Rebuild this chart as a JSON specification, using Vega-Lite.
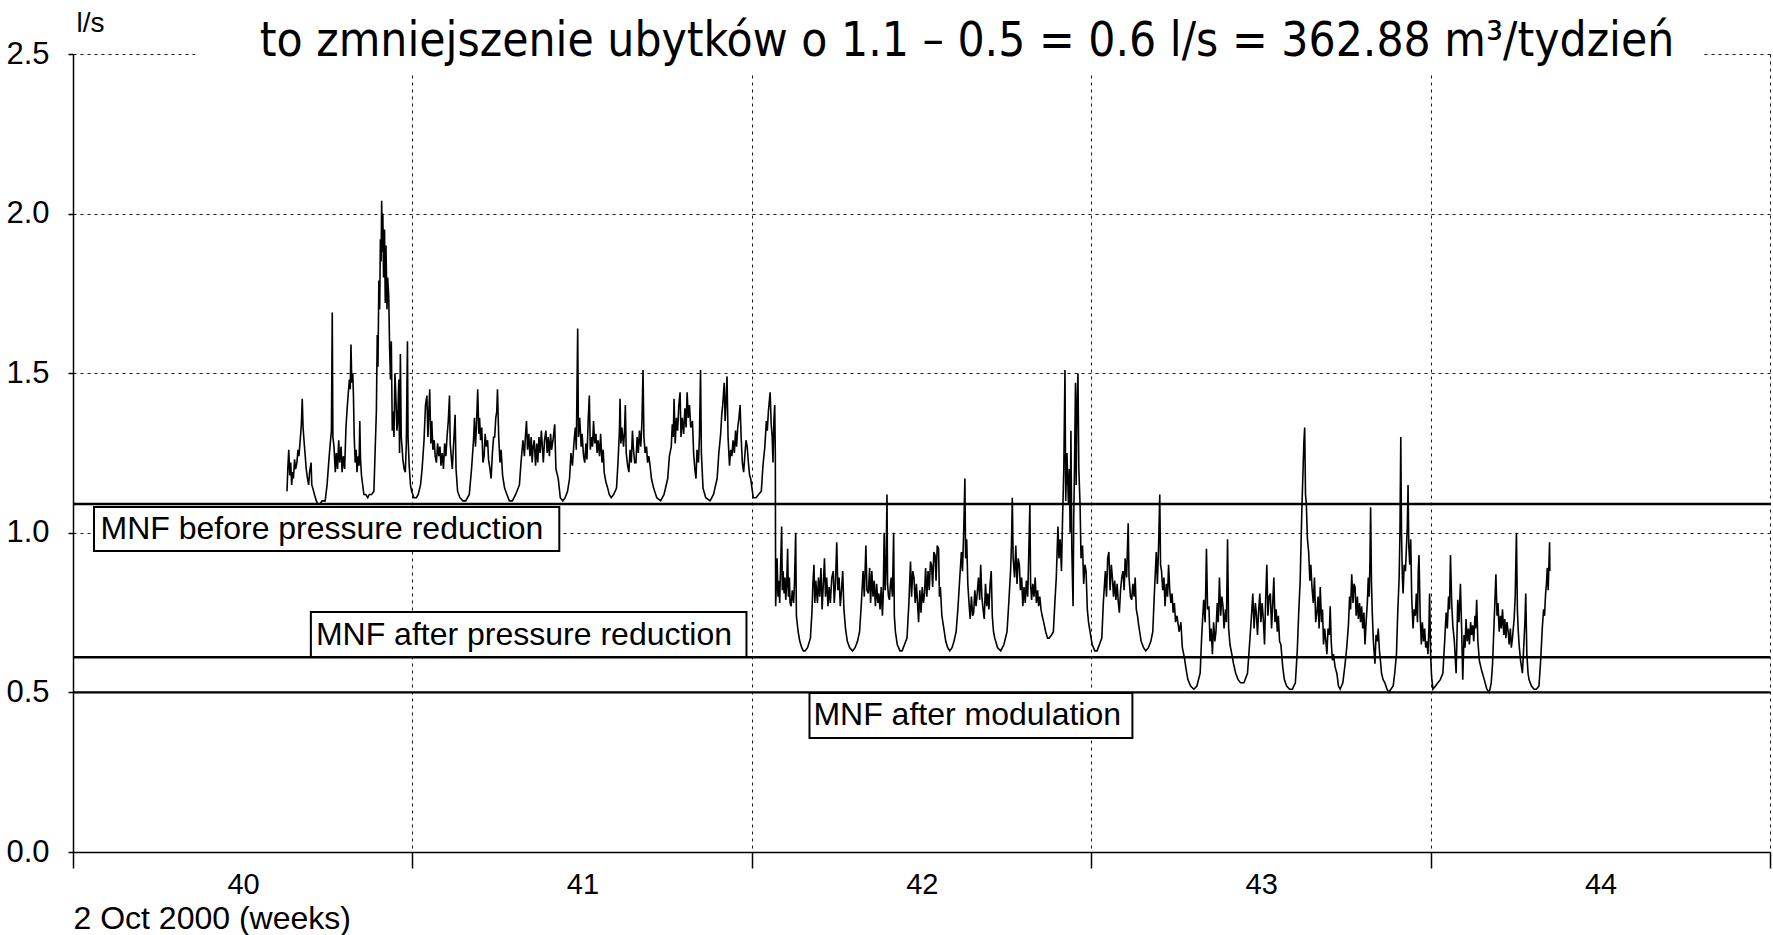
{
"$schema":"https://vega.github.io/schema/vega-lite/v6.json",
"width":1697,"height":798,
"autosize":{"type":"none"},
"padding":{"left":73,"top":54,"right":3,"bottom":83},
"background":"white",
"config":{"view":{"stroke":null},"font":"Liberation Sans"},
"datasets":{
"flow":[
{"t":4.414,"v":1.13},{"t":4.43,"v":1.2},{"t":4.45,"v":1.26},{"t":4.47,"v":1.18},{"t":4.49,"v":1.22},{"t":4.51,"v":1.15},{"t":4.53,"v":1.19},{"t":4.546,"v":1.17},{"t":4.57,"v":1.23},{"t":4.59,"v":1.2},{"t":4.618,"v":1.22},{"t":4.64,"v":1.26},{"t":4.66,"v":1.24},{"t":4.691,"v":1.3},{"t":4.71,"v":1.34},{"t":4.728,"v":1.42},{"t":4.745,"v":1.33},{"t":4.764,"v":1.29},{"t":4.79,"v":1.24},{"t":4.81,"v":1.2},{"t":4.837,"v":1.17},{"t":4.86,"v":1.15},{"t":4.88,"v":1.19},{"t":4.91,"v":1.22},{"t":4.925,"v":1.15},{"t":4.946,"v":1.14},{"t":4.98,"v":1.12},{"t":5.019,"v":1.1},{"t":5.05,"v":1.09},{"t":5.092,"v":1.09},{"t":5.14,"v":1.1},{"t":5.201,"v":1.1},{"t":5.24,"v":1.15},{"t":5.274,"v":1.22},{"t":5.3,"v":1.27},{"t":5.33,"v":1.32},{"t":5.347,"v":1.69},{"t":5.36,"v":1.3},{"t":5.383,"v":1.27},{"t":5.41,"v":1.19},{"t":5.43,"v":1.25},{"t":5.456,"v":1.2},{"t":5.48,"v":1.29},{"t":5.5,"v":1.22},{"t":5.529,"v":1.27},{"t":5.55,"v":1.19},{"t":5.575,"v":1.24},{"t":5.602,"v":1.2},{"t":5.63,"v":1.33},{"t":5.65,"v":1.38},{"t":5.674,"v":1.43},{"t":5.7,"v":1.48},{"t":5.718,"v":1.45},{"t":5.733,"v":1.59},{"t":5.75,"v":1.47},{"t":5.77,"v":1.5},{"t":5.784,"v":1.43},{"t":5.8,"v":1.3},{"t":5.82,"v":1.22},{"t":5.84,"v":1.26},{"t":5.857,"v":1.19},{"t":5.88,"v":1.24},{"t":5.9,"v":1.21},{"t":5.915,"v":1.35},{"t":5.93,"v":1.23},{"t":5.95,"v":1.18},{"t":5.966,"v":1.16},{"t":6.0,"v":1.12},{"t":6.039,"v":1.12},{"t":6.08,"v":1.11},{"t":6.111,"v":1.12},{"t":6.16,"v":1.12},{"t":6.206,"v":1.13},{"t":6.23,"v":1.25},{"t":6.257,"v":1.38},{"t":6.275,"v":1.62},{"t":6.29,"v":1.52},{"t":6.308,"v":1.79},{"t":6.325,"v":1.7},{"t":6.34,"v":1.92},{"t":6.355,"v":1.85},{"t":6.366,"v":2.04},{"t":6.38,"v":1.88},{"t":6.39,"v":2.0},{"t":6.405,"v":1.8},{"t":6.425,"v":1.95},{"t":6.44,"v":1.72},{"t":6.455,"v":1.9},{"t":6.476,"v":1.7},{"t":6.49,"v":1.8},{"t":6.512,"v":1.74},{"t":6.53,"v":1.58},{"t":6.548,"v":1.48},{"t":6.565,"v":1.6},{"t":6.585,"v":1.32},{"t":6.6,"v":1.38},{"t":6.62,"v":1.3},{"t":6.64,"v":1.5},{"t":6.658,"v":1.43},{"t":6.68,"v":1.32},{"t":6.694,"v":1.34},{"t":6.72,"v":1.48},{"t":6.735,"v":1.25},{"t":6.752,"v":1.56},{"t":6.77,"v":1.3},{"t":6.79,"v":1.26},{"t":6.803,"v":1.23},{"t":6.83,"v":1.2},{"t":6.854,"v":1.19},{"t":6.875,"v":1.28},{"t":6.898,"v":1.6},{"t":6.91,"v":1.3},{"t":6.934,"v":1.21},{"t":6.96,"v":1.15},{"t":6.985,"v":1.13},{"t":7.03,"v":1.11},{"t":7.08,"v":1.11},{"t":7.12,"v":1.12},{"t":7.168,"v":1.15},{"t":7.2,"v":1.2},{"t":7.24,"v":1.29},{"t":7.27,"v":1.4},{"t":7.299,"v":1.43},{"t":7.32,"v":1.3},{"t":7.357,"v":1.45},{"t":7.38,"v":1.28},{"t":7.4,"v":1.35},{"t":7.422,"v":1.26},{"t":7.45,"v":1.29},{"t":7.47,"v":1.24},{"t":7.495,"v":1.22},{"t":7.52,"v":1.28},{"t":7.545,"v":1.24},{"t":7.568,"v":1.27},{"t":7.59,"v":1.21},{"t":7.615,"v":1.25},{"t":7.641,"v":1.2},{"t":7.665,"v":1.28},{"t":7.69,"v":1.24},{"t":7.714,"v":1.3},{"t":7.74,"v":1.35},{"t":7.765,"v":1.43},{"t":7.78,"v":1.28},{"t":7.8,"v":1.24},{"t":7.823,"v":1.2},{"t":7.85,"v":1.28},{"t":7.865,"v":1.32},{"t":7.881,"v":1.37},{"t":7.9,"v":1.2},{"t":7.932,"v":1.13},{"t":7.98,"v":1.11},{"t":8.042,"v":1.1},{"t":8.1,"v":1.1},{"t":8.173,"v":1.12},{"t":8.22,"v":1.2},{"t":8.26,"v":1.29},{"t":8.28,"v":1.36},{"t":8.3,"v":1.27},{"t":8.32,"v":1.33},{"t":8.347,"v":1.45},{"t":8.37,"v":1.31},{"t":8.385,"v":1.36},{"t":8.406,"v":1.29},{"t":8.43,"v":1.33},{"t":8.455,"v":1.22},{"t":8.479,"v":1.24},{"t":8.5,"v":1.31},{"t":8.525,"v":1.27},{"t":8.551,"v":1.29},{"t":8.57,"v":1.23},{"t":8.6,"v":1.2},{"t":8.624,"v":1.17},{"t":8.65,"v":1.25},{"t":8.675,"v":1.3},{"t":8.697,"v":1.3},{"t":8.72,"v":1.36},{"t":8.74,"v":1.38},{"t":8.755,"v":1.45},{"t":8.78,"v":1.3},{"t":8.806,"v":1.22},{"t":8.83,"v":1.26},{"t":8.86,"v":1.18},{"t":8.901,"v":1.14},{"t":8.95,"v":1.12},{"t":9.0,"v":1.1},{"t":9.061,"v":1.1},{"t":9.13,"v":1.12},{"t":9.207,"v":1.15},{"t":9.24,"v":1.22},{"t":9.28,"v":1.29},{"t":9.31,"v":1.24},{"t":9.33,"v":1.3},{"t":9.353,"v":1.35},{"t":9.375,"v":1.26},{"t":9.4,"v":1.31},{"t":9.425,"v":1.24},{"t":9.45,"v":1.3},{"t":9.47,"v":1.22},{"t":9.49,"v":1.27},{"t":9.513,"v":1.29},{"t":9.54,"v":1.21},{"t":9.565,"v":1.28},{"t":9.586,"v":1.22},{"t":9.61,"v":1.3},{"t":9.635,"v":1.25},{"t":9.66,"v":1.32},{"t":9.68,"v":1.27},{"t":9.7,"v":1.22},{"t":9.725,"v":1.29},{"t":9.753,"v":1.32},{"t":9.78,"v":1.25},{"t":9.8,"v":1.3},{"t":9.826,"v":1.24},{"t":9.85,"v":1.31},{"t":9.87,"v":1.26},{"t":9.9,"v":1.29},{"t":9.935,"v":1.34},{"t":9.96,"v":1.2},{"t":10.008,"v":1.17},{"t":10.05,"v":1.11},{"t":10.103,"v":1.1},{"t":10.15,"v":1.11},{"t":10.2,"v":1.13},{"t":10.241,"v":1.17},{"t":10.27,"v":1.25},{"t":10.3,"v":1.21},{"t":10.336,"v":1.29},{"t":10.36,"v":1.33},{"t":10.38,"v":1.26},{"t":10.409,"v":1.64},{"t":10.425,"v":1.3},{"t":10.45,"v":1.36},{"t":10.481,"v":1.27},{"t":10.5,"v":1.31},{"t":10.53,"v":1.24},{"t":10.554,"v":1.22},{"t":10.58,"v":1.28},{"t":10.6,"v":1.23},{"t":10.625,"v":1.35},{"t":10.649,"v":1.43},{"t":10.67,"v":1.26},{"t":10.69,"v":1.3},{"t":10.715,"v":1.27},{"t":10.736,"v":1.35},{"t":10.76,"v":1.28},{"t":10.785,"v":1.31},{"t":10.809,"v":1.25},{"t":10.83,"v":1.29},{"t":10.86,"v":1.24},{"t":10.882,"v":1.31},{"t":10.91,"v":1.22},{"t":10.935,"v":1.26},{"t":10.955,"v":1.19},{"t":10.99,"v":1.16},{"t":11.028,"v":1.14},{"t":11.06,"v":1.12},{"t":11.1,"v":1.11},{"t":11.15,"v":1.12},{"t":11.21,"v":1.14},{"t":11.24,"v":1.22},{"t":11.27,"v":1.32},{"t":11.283,"v":1.42},{"t":11.3,"v":1.28},{"t":11.32,"v":1.33},{"t":11.355,"v":1.27},{"t":11.375,"v":1.32},{"t":11.392,"v":1.4},{"t":11.41,"v":1.25},{"t":11.44,"v":1.21},{"t":11.465,"v":1.19},{"t":11.49,"v":1.26},{"t":11.515,"v":1.22},{"t":11.538,"v":1.32},{"t":11.56,"v":1.26},{"t":11.585,"v":1.22},{"t":11.61,"v":1.22},{"t":11.635,"v":1.3},{"t":11.66,"v":1.25},{"t":11.683,"v":1.32},{"t":11.71,"v":1.27},{"t":11.735,"v":1.35},{"t":11.756,"v":1.51},{"t":11.775,"v":1.3},{"t":11.8,"v":1.25},{"t":11.829,"v":1.27},{"t":11.85,"v":1.22},{"t":11.875,"v":1.24},{"t":11.902,"v":1.21},{"t":11.93,"v":1.17},{"t":11.975,"v":1.14},{"t":12.04,"v":1.11},{"t":12.12,"v":1.1},{"t":12.19,"v":1.12},{"t":12.266,"v":1.17},{"t":12.3,"v":1.24},{"t":12.339,"v":1.27},{"t":12.36,"v":1.34},{"t":12.38,"v":1.3},{"t":12.397,"v":1.42},{"t":12.42,"v":1.28},{"t":12.445,"v":1.36},{"t":12.47,"v":1.32},{"t":12.495,"v":1.4},{"t":12.521,"v":1.44},{"t":12.54,"v":1.3},{"t":12.565,"v":1.36},{"t":12.594,"v":1.31},{"t":12.62,"v":1.39},{"t":12.645,"v":1.33},{"t":12.666,"v":1.44},{"t":12.69,"v":1.36},{"t":12.715,"v":1.4},{"t":12.74,"v":1.33},{"t":12.776,"v":1.35},{"t":12.8,"v":1.25},{"t":12.825,"v":1.2},{"t":12.849,"v":1.17},{"t":12.87,"v":1.26},{"t":12.9,"v":1.22},{"t":12.92,"v":1.3},{"t":12.943,"v":1.51},{"t":12.96,"v":1.25},{"t":12.994,"v":1.14},{"t":13.05,"v":1.11},{"t":13.14,"v":1.1},{"t":13.21,"v":1.12},{"t":13.285,"v":1.17},{"t":13.32,"v":1.25},{"t":13.358,"v":1.31},{"t":13.38,"v":1.37},{"t":13.4,"v":1.4},{"t":13.431,"v":1.47},{"t":13.45,"v":1.35},{"t":13.47,"v":1.42},{"t":13.489,"v":1.49},{"t":13.51,"v":1.3},{"t":13.54,"v":1.21},{"t":13.565,"v":1.26},{"t":13.59,"v":1.24},{"t":13.613,"v":1.29},{"t":13.64,"v":1.25},{"t":13.665,"v":1.32},{"t":13.686,"v":1.27},{"t":13.71,"v":1.33},{"t":13.735,"v":1.36},{"t":13.759,"v":1.4},{"t":13.78,"v":1.3},{"t":13.805,"v":1.22},{"t":13.832,"v":1.19},{"t":13.86,"v":1.25},{"t":13.88,"v":1.29},{"t":13.905,"v":1.27},{"t":13.93,"v":1.22},{"t":13.955,"v":1.18},{"t":13.977,"v":1.17},{"t":14.03,"v":1.11},{"t":14.087,"v":1.11},{"t":14.14,"v":1.12},{"t":14.196,"v":1.13},{"t":14.23,"v":1.21},{"t":14.269,"v":1.27},{"t":14.3,"v":1.35},{"t":14.32,"v":1.32},{"t":14.342,"v":1.38},{"t":14.36,"v":1.41},{"t":14.378,"v":1.44},{"t":14.4,"v":1.34},{"t":14.42,"v":1.3},{"t":14.437,"v":1.22},{"t":14.455,"v":1.35},{"t":14.473,"v":1.4},{"t":14.485,"v":1.25},
{"t":14.492,"v":0.77},{"t":14.51,"v":0.86},{"t":14.521,"v":0.92},{"t":14.54,"v":0.8},{"t":14.558,"v":0.85},{"t":14.575,"v":0.78},{"t":14.595,"v":0.9},{"t":14.616,"v":1.02},{"t":14.63,"v":0.82},{"t":14.645,"v":0.88},{"t":14.666,"v":0.81},{"t":14.685,"v":0.86},{"t":14.7,"v":0.79},{"t":14.72,"v":0.84},{"t":14.739,"v":0.95},{"t":14.755,"v":0.8},{"t":14.775,"v":0.86},{"t":14.79,"v":0.78},{"t":14.811,"v":0.77},{"t":14.835,"v":0.82},{"t":14.862,"v":0.78},{"t":14.88,"v":0.84},{"t":14.905,"v":1.0},{"t":14.92,"v":0.74},{"t":14.956,"v":0.69},{"t":14.99,"v":0.66},{"t":15.03,"v":0.64},{"t":15.064,"v":0.63},{"t":15.1,"v":0.63},{"t":15.15,"v":0.64},{"t":15.209,"v":0.67},{"t":15.24,"v":0.75},{"t":15.26,"v":0.84},{"t":15.282,"v":0.9},{"t":15.3,"v":0.78},{"t":15.32,"v":0.85},{"t":15.354,"v":0.78},{"t":15.375,"v":0.86},{"t":15.4,"v":0.8},{"t":15.427,"v":0.89},{"t":15.45,"v":0.76},{"t":15.475,"v":0.84},{"t":15.499,"v":0.92},{"t":15.52,"v":0.8},{"t":15.545,"v":0.86},{"t":15.571,"v":0.77},{"t":15.595,"v":0.83},{"t":15.62,"v":0.78},{"t":15.65,"v":0.86},{"t":15.68,"v":0.88},{"t":15.7,"v":0.78},{"t":15.725,"v":0.84},{"t":15.752,"v":0.97},{"t":15.775,"v":0.82},{"t":15.8,"v":0.86},{"t":15.825,"v":0.77},{"t":15.85,"v":0.82},{"t":15.875,"v":0.88},{"t":15.9,"v":0.76},{"t":15.933,"v":0.7},{"t":15.97,"v":0.66},{"t":16.02,"v":0.64},{"t":16.078,"v":0.63},{"t":16.13,"v":0.64},{"t":16.18,"v":0.66},{"t":16.223,"v":0.69},{"t":16.26,"v":0.78},{"t":16.295,"v":0.88},{"t":16.32,"v":0.8},{"t":16.353,"v":0.96},{"t":16.375,"v":0.82},{"t":16.404,"v":0.81},{"t":16.43,"v":0.89},{"t":16.45,"v":0.78},{"t":16.476,"v":0.88},{"t":16.5,"v":0.8},{"t":16.525,"v":0.85},{"t":16.549,"v":0.77},{"t":16.575,"v":0.84},{"t":16.6,"v":0.78},{"t":16.621,"v":0.81},{"t":16.645,"v":0.76},{"t":16.67,"v":0.83},{"t":16.694,"v":0.74},{"t":16.71,"v":0.8},{"t":16.73,"v":1.0},{"t":16.75,"v":0.82},{"t":16.77,"v":0.9},{"t":16.788,"v":1.12},{"t":16.8,"v":0.84},{"t":16.82,"v":0.8},{"t":16.839,"v":0.79},{"t":16.86,"v":0.84},{"t":16.875,"v":0.86},{"t":16.9,"v":0.8},{"t":16.925,"v":1.0},{"t":16.94,"v":0.74},{"t":16.962,"v":0.69},{"t":17.0,"v":0.65},{"t":17.056,"v":0.63},{"t":17.1,"v":0.63},{"t":17.15,"v":0.65},{"t":17.201,"v":0.67},{"t":17.24,"v":0.78},{"t":17.273,"v":0.91},{"t":17.295,"v":0.8},{"t":17.32,"v":0.88},{"t":17.345,"v":0.86},{"t":17.37,"v":0.78},{"t":17.395,"v":0.84},{"t":17.418,"v":0.78},{"t":17.44,"v":0.72},{"t":17.465,"v":0.82},{"t":17.49,"v":0.75},{"t":17.515,"v":0.83},{"t":17.54,"v":0.78},{"t":17.563,"v":0.81},{"t":17.585,"v":0.89},{"t":17.61,"v":0.8},{"t":17.635,"v":0.88},{"t":17.66,"v":0.82},{"t":17.685,"v":0.91},{"t":17.707,"v":0.9},{"t":17.73,"v":0.83},{"t":17.755,"v":0.94},{"t":17.78,"v":0.93},{"t":17.8,"v":0.85},{"t":17.825,"v":0.96},{"t":17.852,"v":0.95},{"t":17.87,"v":0.8},{"t":17.889,"v":0.83},{"t":17.92,"v":0.74},{"t":17.961,"v":0.7},{"t":18.0,"v":0.66},{"t":18.04,"v":0.64},{"t":18.084,"v":0.63},{"t":18.13,"v":0.64},{"t":18.17,"v":0.66},{"t":18.214,"v":0.69},{"t":18.25,"v":0.76},{"t":18.29,"v":0.86},{"t":18.323,"v":0.94},{"t":18.345,"v":0.88},{"t":18.37,"v":1.0},{"t":18.395,"v":1.17},{"t":18.41,"v":0.92},{"t":18.432,"v":0.98},{"t":18.455,"v":0.84},{"t":18.48,"v":0.78},{"t":18.504,"v":0.73},{"t":18.53,"v":0.8},{"t":18.555,"v":0.74},{"t":18.576,"v":0.75},{"t":18.6,"v":0.82},{"t":18.625,"v":0.77},{"t":18.649,"v":0.81},{"t":18.675,"v":0.86},{"t":18.7,"v":0.79},{"t":18.721,"v":0.9},{"t":18.745,"v":0.8},{"t":18.77,"v":0.76},{"t":18.794,"v":0.73},{"t":18.82,"v":0.84},{"t":18.845,"v":0.77},{"t":18.866,"v":0.81},{"t":18.89,"v":0.76},{"t":18.915,"v":0.84},{"t":18.938,"v":0.88},{"t":18.96,"v":0.74},{"t":18.985,"v":0.69},{"t":19.011,"v":0.67},{"t":19.07,"v":0.64},{"t":19.134,"v":0.63},{"t":19.2,"v":0.65},{"t":19.264,"v":0.69},{"t":19.3,"v":0.78},{"t":19.337,"v":0.88},{"t":19.355,"v":0.96},{"t":19.373,"v":1.11},{"t":19.39,"v":0.92},{"t":19.42,"v":0.86},{"t":19.445,"v":0.96},{"t":19.47,"v":0.84},{"t":19.495,"v":0.92},{"t":19.518,"v":0.9},{"t":19.54,"v":0.82},{"t":19.565,"v":0.86},{"t":19.59,"v":0.77},{"t":19.615,"v":0.83},{"t":19.64,"v":0.78},{"t":19.663,"v":0.85},{"t":19.69,"v":0.8},{"t":19.71,"v":0.92},{"t":19.735,"v":1.09},{"t":19.75,"v":0.84},{"t":19.771,"v":0.79},{"t":19.795,"v":0.84},{"t":19.82,"v":0.8},{"t":19.844,"v":0.86},{"t":19.87,"v":0.78},{"t":19.895,"v":0.82},{"t":19.916,"v":0.77},{"t":19.94,"v":0.8},{"t":19.965,"v":0.76},{"t":19.988,"v":0.74},{"t":20.02,"v":0.72},{"t":20.061,"v":0.69},{"t":20.1,"v":0.67},{"t":20.133,"v":0.67},{"t":20.18,"v":0.68},{"t":20.22,"v":0.69},{"t":20.25,"v":0.78},{"t":20.28,"v":0.86},{"t":20.314,"v":1.02},{"t":20.335,"v":0.92},{"t":20.36,"v":0.98},{"t":20.387,"v":0.88},{"t":20.41,"v":1.05},{"t":20.435,"v":1.2},{"t":20.459,"v":1.51},{"t":20.475,"v":1.1},{"t":20.5,"v":1.25},{"t":20.531,"v":1.09},{"t":20.55,"v":1.2},{"t":20.565,"v":1.0},{"t":20.582,"v":1.32},{"t":20.6,"v":0.95},{"t":20.626,"v":0.77},{"t":20.64,"v":1.05},{"t":20.655,"v":1.2},{"t":20.676,"v":1.47},{"t":20.69,"v":1.15},{"t":20.705,"v":1.38},{"t":20.727,"v":1.5},{"t":20.745,"v":1.2},{"t":20.77,"v":1.09},{"t":20.79,"v":0.92},{"t":20.821,"v":0.96},{"t":20.845,"v":0.84},{"t":20.87,"v":0.9},{"t":20.894,"v":0.88},{"t":20.92,"v":0.76},{"t":20.945,"v":0.72},{"t":20.966,"v":0.7},{"t":21.02,"v":0.65},{"t":21.075,"v":0.63},{"t":21.12,"v":0.63},{"t":21.17,"v":0.65},{"t":21.219,"v":0.67},{"t":21.25,"v":0.78},{"t":21.292,"v":0.88},{"t":21.315,"v":0.8},{"t":21.34,"v":0.92},{"t":21.364,"v":0.94},{"t":21.39,"v":0.82},{"t":21.415,"v":0.9},{"t":21.437,"v":0.86},{"t":21.46,"v":0.8},{"t":21.485,"v":0.85},{"t":21.509,"v":0.79},{"t":21.535,"v":0.84},{"t":21.56,"v":0.78},{"t":21.581,"v":0.75},{"t":21.605,"v":0.82},{"t":21.63,"v":0.86},{"t":21.654,"v":0.88},{"t":21.68,"v":0.82},{"t":21.7,"v":0.92},{"t":21.73,"v":0.86},{"t":21.763,"v":1.03},{"t":21.78,"v":0.86},{"t":21.81,"v":0.8},{"t":21.835,"v":0.79},{"t":21.86,"v":0.84},{"t":21.885,"v":0.8},{"t":21.907,"v":0.86},{"t":21.93,"v":0.76},{"t":21.955,"v":0.74},{"t":21.98,"v":0.71},{"t":22.03,"v":0.66},{"t":22.08,"v":0.64},{"t":22.125,"v":0.63},{"t":22.18,"v":0.64},{"t":22.23,"v":0.66},{"t":22.27,"v":0.69},{"t":22.3,"v":0.8},{"t":22.342,"v":0.94},{"t":22.365,"v":0.84},{"t":22.39,"v":0.96},{"t":22.414,"v":1.12},{"t":22.43,"v":0.9},{"t":22.451,"v":0.88},{"t":22.475,"v":0.82},{"t":22.5,"v":0.86},{"t":22.523,"v":0.77},{"t":22.55,"v":0.84},{"t":22.575,"v":0.8},{"t":22.596,"v":0.9},{"t":22.62,"v":0.82},{"t":22.645,"v":0.78},{"t":22.668,"v":0.81},{"t":22.69,"v":0.75},{"t":22.715,"v":0.78},{"t":22.74,"v":0.72},{"t":22.77,"v":0.74},{"t":22.813,"v":0.69},{"t":22.85,"v":0.72},{"t":22.88,"v":0.64},{"t":22.921,"v":0.61},{"t":22.96,"v":0.57},{"t":22.994,"v":0.54},{"t":23.05,"v":0.52},{"t":23.117,"v":0.51},{"t":23.18,"v":0.52},{"t":23.247,"v":0.56},{"t":23.28,"v":0.68},{"t":23.32,"v":0.79},{"t":23.35,"v":0.72},{"t":23.377,"v":0.95},{"t":23.4,"v":0.76},{"t":23.428,"v":0.77},{"t":23.45,"v":0.66},{"t":23.475,"v":0.7},{"t":23.5,"v":0.62},{"t":23.525,"v":0.72},{"t":23.55,"v":0.66},{"t":23.573,"v":0.69},{"t":23.6,"v":0.78},{"t":23.62,"v":0.72},{"t":23.645,"v":0.86},{"t":23.67,"v":0.74},{"t":23.695,"v":0.8},{"t":23.718,"v":0.77},{"t":23.74,"v":0.7},{"t":23.77,"v":0.76},{"t":23.79,"v":0.72},{"t":23.812,"v":0.98},{"t":23.835,"v":0.7},{"t":23.862,"v":0.65},{"t":23.9,"v":0.62},{"t":23.935,"v":0.59},{"t":23.98,"v":0.56},{"t":24.03,"v":0.54},{"t":24.079,"v":0.53},{"t":24.15,"v":0.53},{"t":24.224,"v":0.56},{"t":24.27,"v":0.66},{"t":24.31,"v":0.75},{"t":24.333,"v":0.81},{"t":24.36,"v":0.7},{"t":24.385,"v":0.78},{"t":24.405,"v":0.75},{"t":24.43,"v":0.68},{"t":24.455,"v":0.76},{"t":24.478,"v":0.81},{"t":24.5,"v":0.72},{"t":24.525,"v":0.78},{"t":24.55,"v":0.73},{"t":24.575,"v":0.65},{"t":24.6,"v":0.8},{"t":24.622,"v":0.9},{"t":24.645,"v":0.74},{"t":24.67,"v":0.8},{"t":24.695,"v":0.81},{"t":24.72,"v":0.7},{"t":24.745,"v":0.78},{"t":24.767,"v":0.86},{"t":24.79,"v":0.72},{"t":24.815,"v":0.76},{"t":24.839,"v":0.69},{"t":24.86,"v":0.74},{"t":24.885,"v":0.66},{"t":24.912,"v":0.65},{"t":24.95,"v":0.58},{"t":24.984,"v":0.54},{"t":25.03,"v":0.52},{"t":25.093,"v":0.51},
{"t":25.15,"v":0.51},{"t":25.211,"v":0.53},{"t":25.25,"v":0.63},{"t":25.28,"v":0.75},{"t":25.31,"v":0.85},{"t":25.33,"v":0.98},{"t":25.348,"v":1.09},{"t":25.37,"v":1.2},{"t":25.385,"v":1.28},{"t":25.403,"v":1.33},{"t":25.42,"v":1.12},{"t":25.437,"v":1.09},{"t":25.46,"v":0.98},{"t":25.485,"v":0.94},{"t":25.51,"v":0.85},{"t":25.53,"v":0.9},{"t":25.553,"v":0.83},{"t":25.58,"v":0.78},{"t":25.605,"v":0.86},{"t":25.63,"v":0.72},{"t":25.655,"v":0.75},{"t":25.68,"v":0.8},{"t":25.7,"v":0.7},{"t":25.724,"v":0.83},{"t":25.75,"v":0.72},{"t":25.77,"v":0.76},{"t":25.792,"v":0.65},{"t":25.815,"v":0.7},{"t":25.84,"v":0.66},{"t":25.861,"v":0.62},{"t":25.885,"v":0.7},{"t":25.91,"v":0.68},{"t":25.929,"v":0.77},{"t":25.95,"v":0.66},{"t":25.975,"v":0.6},{"t":25.997,"v":0.62},{"t":26.03,"v":0.58},{"t":26.066,"v":0.56},{"t":26.1,"v":0.52},{"t":26.134,"v":0.51},{"t":26.19,"v":0.53},{"t":26.237,"v":0.59},{"t":26.27,"v":0.64},{"t":26.305,"v":0.71},{"t":26.33,"v":0.8},{"t":26.35,"v":0.76},{"t":26.373,"v":0.87},{"t":26.4,"v":0.78},{"t":26.42,"v":0.84},{"t":26.442,"v":0.83},{"t":26.465,"v":0.74},{"t":26.49,"v":0.8},{"t":26.51,"v":0.73},{"t":26.535,"v":0.78},{"t":26.555,"v":0.72},{"t":26.578,"v":0.77},{"t":26.6,"v":0.7},{"t":26.625,"v":0.75},{"t":26.647,"v":0.65},{"t":26.67,"v":0.72},{"t":26.695,"v":0.78},{"t":26.715,"v":0.86},{"t":26.735,"v":0.8},{"t":26.75,"v":0.92},{"t":26.763,"v":1.08},{"t":26.78,"v":0.85},{"t":26.797,"v":0.75},{"t":26.82,"v":0.66},{"t":26.852,"v":0.59},{"t":26.875,"v":0.68},{"t":26.9,"v":0.66},{"t":26.92,"v":0.7},{"t":26.945,"v":0.63},{"t":26.965,"v":0.6},{"t":26.988,"v":0.56},{"t":27.02,"v":0.54},{"t":27.057,"v":0.53},{"t":27.1,"v":0.51},{"t":27.139,"v":0.5},{"t":27.18,"v":0.51},{"t":27.228,"v":0.52},{"t":27.26,"v":0.56},{"t":27.296,"v":0.62},{"t":27.32,"v":0.74},{"t":27.351,"v":0.86},{"t":27.368,"v":1.0},{"t":27.385,"v":1.3},{"t":27.4,"v":1.0},{"t":27.418,"v":0.86},{"t":27.433,"v":0.81},{"t":27.455,"v":0.9},{"t":27.481,"v":0.88},{"t":27.5,"v":0.95},{"t":27.52,"v":1.02},{"t":27.535,"v":1.15},{"t":27.55,"v":0.96},{"t":27.57,"v":0.9},{"t":27.59,"v":0.98},{"t":27.61,"v":0.8},{"t":27.638,"v":0.7},{"t":27.66,"v":0.76},{"t":27.685,"v":0.74},{"t":27.706,"v":0.81},{"t":27.73,"v":0.72},{"t":27.745,"v":0.88},{"t":27.761,"v":0.93},{"t":27.785,"v":0.74},{"t":27.809,"v":0.65},{"t":27.83,"v":0.72},{"t":27.855,"v":0.66},{"t":27.877,"v":0.7},{"t":27.9,"v":0.64},{"t":27.925,"v":0.66},{"t":27.945,"v":0.62},{"t":27.965,"v":0.7},{"t":27.979,"v":0.81},{"t":28.0,"v":0.62},{"t":28.02,"v":0.55},{"t":28.048,"v":0.51},{"t":28.1,"v":0.52},{"t":28.15,"v":0.53},{"t":28.2,"v":0.54},{"t":28.253,"v":0.56},{"t":28.29,"v":0.66},{"t":28.321,"v":0.75},{"t":28.345,"v":0.7},{"t":28.37,"v":0.8},{"t":28.39,"v":0.76},{"t":28.41,"v":0.93},{"t":28.435,"v":0.78},{"t":28.458,"v":0.71},{"t":28.49,"v":0.66},{"t":28.526,"v":0.56},{"t":28.545,"v":0.68},{"t":28.56,"v":0.79},{"t":28.585,"v":0.72},{"t":28.615,"v":0.84},{"t":28.64,"v":0.7},{"t":28.663,"v":0.54},{"t":28.69,"v":0.68},{"t":28.71,"v":0.64},{"t":28.731,"v":0.73},{"t":28.755,"v":0.66},{"t":28.78,"v":0.7},{"t":28.8,"v":0.65},{"t":28.825,"v":0.72},{"t":28.845,"v":0.68},{"t":28.868,"v":0.71},{"t":28.89,"v":0.66},{"t":28.915,"v":0.74},{"t":28.93,"v":0.7},{"t":28.95,"v":0.79},{"t":28.975,"v":0.66},{"t":29.005,"v":0.6},{"t":29.05,"v":0.57},{"t":29.107,"v":0.54},{"t":29.16,"v":0.51},{"t":29.21,"v":0.5},{"t":29.25,"v":0.53},{"t":29.278,"v":0.59},{"t":29.31,"v":0.72},{"t":29.347,"v":0.87},{"t":29.37,"v":0.74},{"t":29.39,"v":0.78},{"t":29.415,"v":0.69},{"t":29.44,"v":0.74},{"t":29.46,"v":0.7},{"t":29.483,"v":0.76},{"t":29.51,"v":0.68},{"t":29.53,"v":0.73},{"t":29.552,"v":0.67},{"t":29.575,"v":0.72},{"t":29.6,"v":0.69},{"t":29.62,"v":0.65},{"t":29.645,"v":0.7},{"t":29.665,"v":0.64},{"t":29.688,"v":0.67},{"t":29.705,"v":0.7},{"t":29.723,"v":0.73},{"t":29.745,"v":0.8},{"t":29.77,"v":1.0},{"t":29.79,"v":0.76},{"t":29.805,"v":0.7},{"t":29.825,"v":0.65},{"t":29.855,"v":0.6},{"t":29.893,"v":0.56},{"t":29.92,"v":0.64},{"t":29.945,"v":0.72},{"t":29.962,"v":0.81},{"t":29.985,"v":0.62},{"t":30.01,"v":0.56},{"t":30.03,"v":0.54},{"t":30.08,"v":0.52},{"t":30.133,"v":0.51},{"t":30.18,"v":0.51},{"t":30.235,"v":0.52},{"t":30.27,"v":0.6},{"t":30.303,"v":0.7},{"t":30.33,"v":0.76},{"t":30.35,"v":0.74},{"t":30.372,"v":0.81},{"t":30.39,"v":0.84},{"t":30.406,"v":0.89},{"t":30.425,"v":0.82},{"t":30.44,"v":0.9},{"t":30.454,"v":0.97},{"t":30.46,"v":0.88}
],
"mnf":[{"level":1.09},{"level":0.61},{"level":0.5}],
"boxes":[
{"label":"MNF before pressure reduction","x1":0.433,"x2":10.03,"y1":1.081,"y2":0.943,"tx":0.567,"ty":1.012},
{"label":"MNF after pressure reduction","x1":4.906,"x2":13.89,"y1":0.752,"y2":0.611,"tx":5.01,"ty":0.681},
{"label":"MNF after modulation","x1":15.19,"x2":21.85,"y1":0.498,"y2":0.357,"tx":15.27,"ty":0.428}
],
"heading":[{"text":"to zmniejszenie ubytków o 1.1 – 0.5 = 0.6 l/s = 362.88 m³/tydzień","x1":2.52,"x2":33.6,"y1":2.444,"y2":2.75,"tx":18.44,"ty":2.494}]
},
"layer":[
{"data":{"name":"flow"},"mark":{"type":"line","color":"black","strokeWidth":1.6,"interpolate":"linear"},
 "encoding":{
  "x":{"field":"t","type":"quantitative","scale":{"domain":[0,35],"nice":false,"zero":false},
   "axis":{"values":[0,7,14,21,28,35],"labelExpr":"datum.value < 35 ? format(40 + datum.value/7, 'd') : ''","labelOffset":170,"labelFlush":false,"labelBound":false,"labelOverlap":false,
    "labelFont":"Liberation Sans","labelFontSize":29,"labelColor":"black","labelBaseline":"alphabetic","labelPadding":25,
    "tickSize":16,"tickColor":"black","tickWidth":1.5,"domainColor":"black","domainWidth":1.5,
    "grid":true,"gridColor":"black","gridDash":[3,4],"gridWidth":1,"gridOpacity":0.9,
    "title":"2 Oct 2000 (weeks)","titleFont":"Liberation Sans","titleFontSize":32,"titleFontWeight":"normal","titleColor":"black","titleX":0,"titleY":76,"titleAlign":"left","titleAnchor":"start","titleBaseline":"alphabetic"}},
  "y":{"field":"v","type":"quantitative","scale":{"domain":[0,2.5],"nice":false,"zero":false},
   "axis":{"values":[0,0.5,1,1.5,2,2.5],"format":".1f","labelFont":"Liberation Sans","labelFontSize":31,"labelColor":"black","labelPadding":19,
    "tickSize":5,"tickColor":"black","tickWidth":1.5,"domainColor":"black","domainWidth":1.5,
    "grid":true,"gridColor":"black","gridDash":[3,4],"gridWidth":1,"gridOpacity":0.9,
    "title":"l/s","titleFont":"Liberation Sans","titleFontSize":28,"titleFontWeight":"normal","titleColor":"black","titleAngle":0,"titleX":3,"titleY":-23,"titleAlign":"left","titleBaseline":"alphabetic"}}
 }},
{"data":{"name":"mnf"},"mark":{"type":"rule","color":"black","strokeWidth":2.4},
 "encoding":{"y":{"field":"level","type":"quantitative"}}},
{"data":{"name":"boxes"},"mark":{"type":"rect","fill":"white","stroke":"black","strokeWidth":2},
 "encoding":{"x":{"field":"x1","type":"quantitative"},"x2":{"field":"x2"},"y":{"field":"y1","type":"quantitative"},"y2":{"field":"y2"}}},
{"data":{"name":"boxes"},"mark":{"type":"text","align":"left","baseline":"middle","font":"Liberation Sans","fontSize":32,"color":"black"},
 "encoding":{"x":{"field":"tx","type":"quantitative"},"y":{"field":"ty","type":"quantitative"},"text":{"field":"label"}}},
{"data":{"name":"heading"},"mark":{"type":"rect","fill":"white","stroke":null},
 "encoding":{"x":{"field":"x1","type":"quantitative"},"x2":{"field":"x2"},"y":{"field":"y1","type":"quantitative"},"y2":{"field":"y2"}}},
{"data":{"name":"heading"},"mark":{"type":"text","align":"center","baseline":"alphabetic","font":"DejaVu Sans Condensed","fontSize":47.5,"color":"black"},
 "encoding":{"x":{"field":"tx","type":"quantitative"},"y":{"field":"ty","type":"quantitative"},"text":{"field":"text"}}}
]
}
